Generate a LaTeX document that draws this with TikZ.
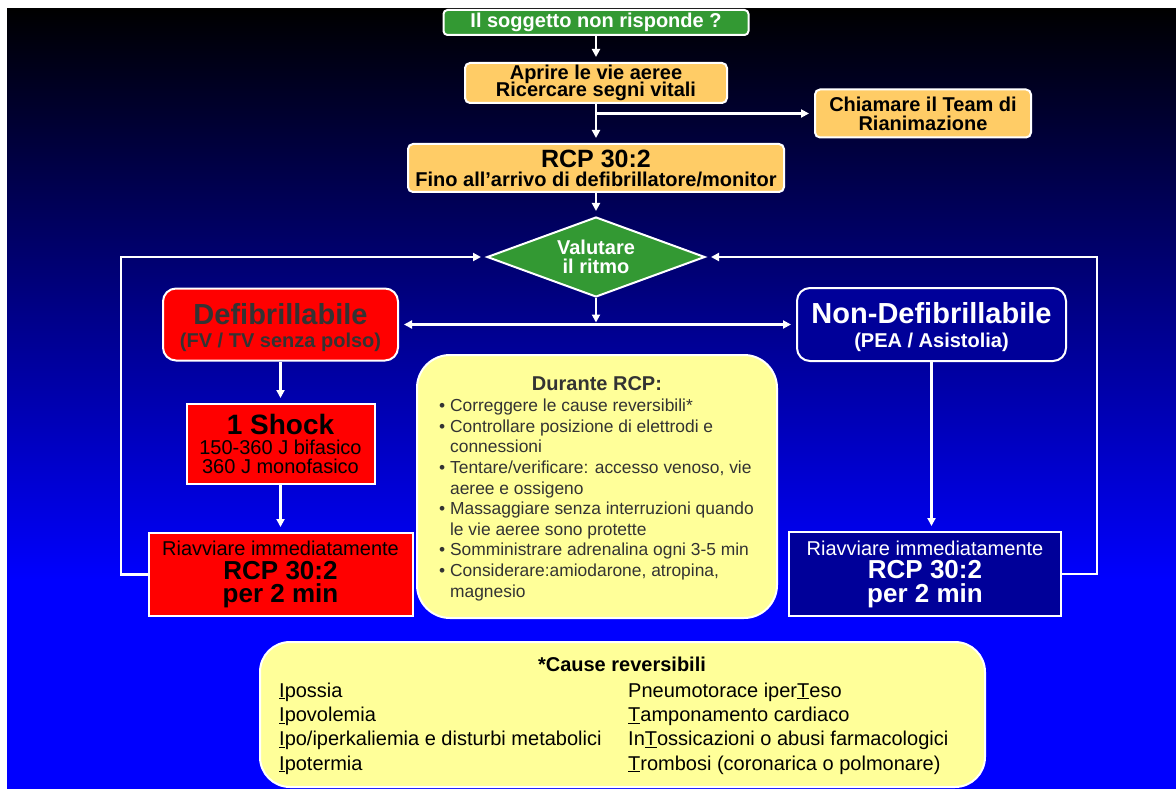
\documentclass[tikz,border=0pt]{standalone}
\usepackage{fontspec}
\setmainfont{Liberation Sans}
\usetikzlibrary{positioning}
\usetikzlibrary{shapes.geometric}
\usetikzlibrary{arrows.meta}

\definecolor{startgreen}{HTML}{339933}
\definecolor{boxorange}{HTML}{FFCC66}
\definecolor{shockred}{HTML}{FF0000}
\definecolor{boxnavy}{HTML}{000099}
\definecolor{notepale}{HTML}{FFFF99}
\definecolor{darktext}{HTML}{333333}

\newcommand{\setfs}[2]{\fontsize{#1pt}{#2pt}\selectfont\lineskiplimit=-100pt\relax}

\begin{document}
\begin{tikzpicture}[x=1pt,y=-1pt,
    every node/.style={inner sep=0pt, align=center},
    flowbox/.style={draw=white, line width=2pt},
    stepbox/.style={flowbox, fill=boxorange, rounded corners=5pt, font=\bfseries\setfs{20}{17}},
    redbox/.style={flowbox, fill=shockred},
    bluebox/.style={flowbox, fill=boxnavy, text=white},
    notebox/.style={flowbox, fill=notepale},
    arr/.style={white, line width=2.5pt, -{Triangle[length=8pt,width=8pt]}, shorten >=5pt}
]
    \useasboundingbox (0,0) rectangle (1176,789);

    % background
    \fill[white] (0,0) rectangle (1176,789);
    \shade[top color=black, bottom color=blue] (7,9) rectangle (1176,580);
    \fill[blue] (7,579.5) rectangle (1176,789);

    % first steps
    \node[flowbox, fill=startgreen, rounded corners=4pt, minimum width=305pt, minimum height=25pt,
          text=white, font=\bfseries\setfs{20}{20}] (start) at (596,22.5) {Il soggetto non risponde ?};
    \node[stepbox, minimum width=262pt, minimum height=40pt] (airway) at (596,83)
        {Aprire le vie aeree\\Ricercare segni vitali};
    \node[stepbox, minimum width=216pt, minimum height=48pt, font=\bfseries\setfs{20}{19}] (team) at (923,113.5)
        {Chiamare il Team di\\Rianimazione};
    \node[stepbox, minimum width=376pt, minimum height=48pt, font=\bfseries\setfs{20}{19}] (cpr) at (596,168)
        {{\setfs{25}{25}RCP 30:2}\\Fino all’arrivo di defibrillatore/monitor};

    % rhythm check
    \node[diamond, aspect=2.7, draw=white, line width=2pt, fill=startgreen, minimum width=218pt, minimum height=80pt,
          text=white, font=\bfseries\setfs{20}{18.5}] (rhythm) at (596,257) {Valutare\\il ritmo};

    % shockable branch
    \node[redbox, rounded corners=13pt, minimum width=235pt, minimum height=72pt, text=darktext,
          font=\bfseries\setfs{20}{23}] (shockable) at (280.5,324.5)
        {{\setfs{29}{29}\rule{0pt}{27pt}Defibrillabile}\\(FV / TV senza polso)};
    \node[redbox, minimum width=188pt, minimum height=80pt, font=\setfs{20}{19.5}] (shock) at (280.5,444)
        {{\bfseries\setfs{28}{28}1 Shock}\\150-360 J bifasico\\360 J monofasico};
    \node[redbox, minimum width=264pt, minimum height=83pt, font=\bfseries\setfs{26}{23.5}] (cprL) at (280.5,574.5)
        {{\mdseries\setfs{20}{20}Riavviare immediatamente}\\RCP 30:2\\per 2 min};

    % non-shockable branch
    \node[bluebox, rounded corners=13pt, minimum width=269pt, minimum height=73pt,
          font=\bfseries\setfs{20}{24}] (nonshock) at (931.5,324.5)
        {{\setfs{29}{29}\rule{0pt}{27pt}Non-Defibrillabile}\\(PEA / Asistolia)};
    \node[bluebox, minimum width=272pt, minimum height=84pt, font=\bfseries\setfs{26}{23.5}] (cprR) at (925,574)
        {{\mdseries\setfs{20}{20}Riavviare immediatamente}\\RCP 30:2\\per 2 min};

    % during CPR
    \node[notebox, rounded corners=33pt, minimum width=360pt, minimum height=263pt] (during) at (597,486.5) {};
    \node[anchor=base, text=darktext, font=\bfseries\setfs{20}{20}] (durtitle) at (597,390) {Durante RCP:};
    % base of a multi-line node = its last line
    \node[anchor=base west, align=left, text=darktext, font=\setfs{17.4}{20.6}] (durlist) at (439,597)
        {• Correggere le cause reversibili*\\
         • Controllare posizione di elettrodi e\\
         \hphantom{• }connessioni\\
         • Tentare/verificare: accesso venoso, vie\\
         \hphantom{• }aeree e ossigeno\\
         • Massaggiare senza interruzioni quando\\
         \hphantom{• }le vie aeree sono protette\\
         • Somministrare adrenalina ogni 3-5 min\\
         • Considerare:amiodarone, atropina,\\
         \hphantom{• }magnesio};

    % reversible causes
    \node[notebox, rounded corners=30pt, minimum width=725pt, minimum height=145pt] (causes) at (622.5,714.5) {};
    \node[anchor=base, font=\bfseries\setfs{20}{20}] (causetitle) at (622,671) {*Cause reversibili};
    \node[anchor=base west, align=left, font=\setfs{20}{24.3}] (causeI) at (279,770)
        {\underline{I}possia\\\underline{I}povolemia\\\underline{I}po/iperkaliemia e disturbi metabolici\\\underline{I}potermia};
    \node[anchor=base west, align=left, font=\setfs{20}{24.3}] (causeT) at (628,770)
        {Pneumotorace iper\underline{T}eso\\\underline{T}amponamento cardiaco\\In\underline{T}ossicazioni o abusi farmacologici\\\underline{T}rombosi (coronarica o polmonare)};

    % connectors
    \coordinate (teamfork) at (596,113.5);
    \coordinate (split) at (596,324.5);
    \coordinate (loopL) at (121,257);
    \coordinate (loopR) at (1097,257);

    \draw[arr] (start) -- (airway);
    \draw[arr] (airway) -- (cpr);
    \draw[arr] (teamfork) -- (team);
    \draw[arr] (cpr) -- (rhythm);
    \draw[arr, shorten >=2pt] (rhythm) -- (split);
    \draw[arr] (split) -- (shockable);
    \draw[arr] (split) -- (nonshock);
    \draw[arr] (shockable) -- (shock);
    \draw[arr] (shock) -- (cprL);
    \draw[arr] (nonshock.south) -- (nonshock.south |- cprR.north);
    \draw[arr] (cprL.west) -| (loopL) -- (rhythm.west);
    \draw[arr] (cprR.east) -| (loopR) -- (rhythm.east);
\end{tikzpicture}
\end{document}
